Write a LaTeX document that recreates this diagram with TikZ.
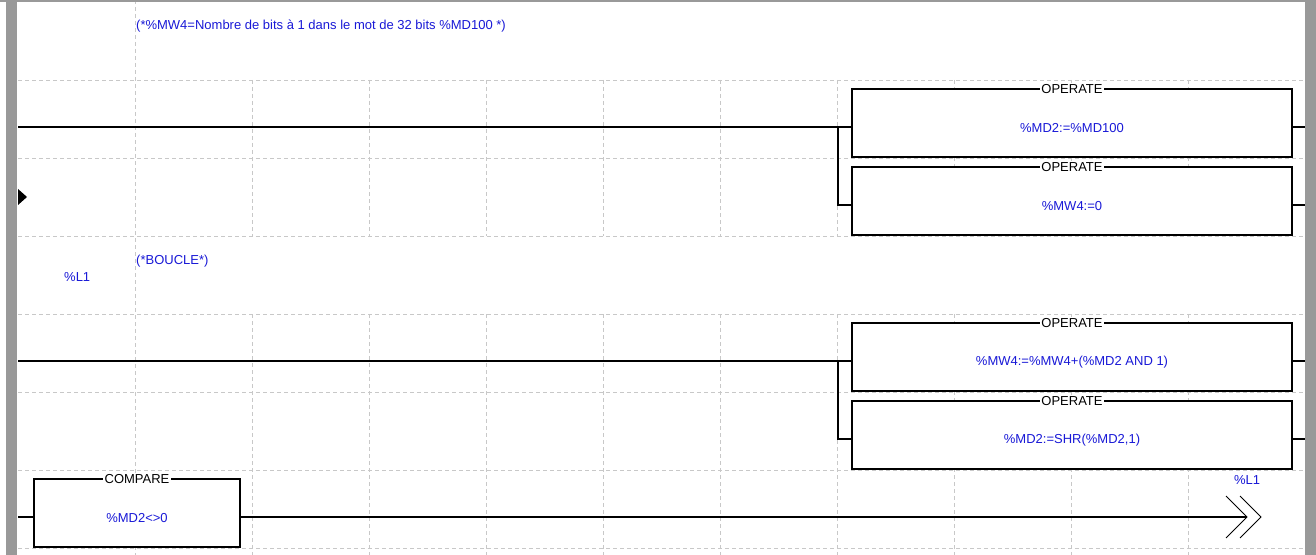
\documentclass[tikz,border=0pt]{standalone}
\usepackage{fontspec}
\setmainfont{Liberation Sans}
\begin{document}
\begin{tikzpicture}[x=1bp,y=-1bp,
  grid/.style={draw={rgb,255:red,200;green,200;blue,200},line width=0.8bp,dash pattern=on 4bp off 3bp},
  wire/.style={draw=black,line width=1.2bp},
  blk/.style={draw=black,line width=1.2bp,fill=white,inner sep=0pt},
  ttl/.style={fill=white,inner sep=1.2bp,font=\fontsize{13bp}{15bp}\selectfont,text=black},
  val/.style={inner sep=0pt,font=\fontsize{13bp}{15bp}\selectfont,text=ptblue},
  cmt/.style={inner sep=0pt,anchor=west,font=\fontsize{13bp}{15bp}\selectfont,text=ptblue},
  rail/.style={fill={rgb,255:red,153;green,153;blue,153},draw=none}]
\definecolor{ptblue}{RGB}{25,25,215}
\useasboundingbox (0,0) rectangle (1316,555);
\fill[white] (0,0) rectangle (1316,555);
% grid
\foreach \y in {80,158,236,314,392,470,548} \draw[grid] (18,\y) -- (1305,\y);
\draw[grid] (135,0) -- (135,555);
\foreach \x in {252,369,486,603,720,837,954,1071,1188} {
  \draw[grid] (\x,80) -- (\x,236);
  \draw[grid] (\x,314) -- (\x,555);
}
% rails
\fill[rail] (0,0) rectangle (1316,2);
\fill[rail] (6,0) rectangle (17,555);
\fill[rail] (1305,0) rectangle (1316,555);
\fill[black] (18,189) -- (27,197) -- (18,205) -- cycle;
% comments
\node[cmt] (c1) at (136,26) {(*\%MW4=Nombre de bits à 1 dans le mot de 32 bits \%MD100 *)};
\node[cmt] (c2) at (136,261) {(*BOUCLE*)};
\node[cmt] (lab) at (64,277) {\%L1};
% rung 1
\node[blk,minimum width=440bp,minimum height=68bp] (b1) at (1072,123) {};
\node[ttl] at ([yshift=-0.5bp]b1.north) {OPERATE};
\node[val] at (1072,128) {\%MD2:=\%MD100};
\node[blk,minimum width=440bp,minimum height=68bp] (b2) at (1072,201) {};
\node[ttl] at ([yshift=-0.5bp]b2.north) {OPERATE};
\node[val] at (1072,206) {\%MW4:=0};
\coordinate (l1) at (18,127);
\coordinate (j1) at (838,127);
\coordinate (j2) at (838,205);
\coordinate (r1) at (1305,127);
\coordinate (r2) at (1305,205);
\draw[wire] (l1) -- (j1) -- (b1.west |- j1);
\draw[wire] (j1) -- (j2) -- (b2.west |- j2);
\draw[wire] (b1.east |- r1) -- (r1);
\draw[wire] (b2.east |- r2) -- (r2);
% rung 2
\node[blk,minimum width=440bp,minimum height=68bp] (b3) at (1072,357) {};
\node[ttl] at ([yshift=-0.5bp]b3.north) {OPERATE};
\node[val] at (1072,362) {\%MW4:=\%MW4+(\%MD2 AND 1)};
\node[blk,minimum width=440bp,minimum height=68bp] (b4) at (1072,435) {};
\node[ttl] at ([yshift=-0.5bp]b4.north) {OPERATE};
\node[val] at (1072,440) {\%MD2:=SHR(\%MD2,1)};
\coordinate (l2) at (18,361);
\coordinate (j3) at (838,361);
\coordinate (j4) at (838,439);
\coordinate (r3) at (1305,361);
\coordinate (r4) at (1305,439);
\draw[wire] (l2) -- (j3) -- (b3.west |- j3);
\draw[wire] (j3) -- (j4) -- (b4.west |- j4);
\draw[wire] (b3.east |- r3) -- (r3);
\draw[wire] (b4.east |- r4) -- (r4);
% rung 3
\node[blk,minimum width=206bp,minimum height=68bp] (b5) at (137,513) {};
\node[ttl] at ([yshift=-0.5bp]b5.north) {COMPARE};
\node[val] at (137,518) {\%MD2<>0};
\coordinate (l3) at (18,517);
\coordinate (jmp) at (1247,517);
\draw[wire] (l3) -- (b5.west |- l3);
\draw[wire] (b5.east |- l3) -- (jmp);
\draw[black,line width=0.8bp] (1226,496) -- (jmp) -- (1226,538);
\draw[black,line width=0.8bp] (1240,496) -- (1261,517) -- (1240,538);
\node[val] (jl) at (1247,480) {\%L1};
\end{tikzpicture}
\end{document}
